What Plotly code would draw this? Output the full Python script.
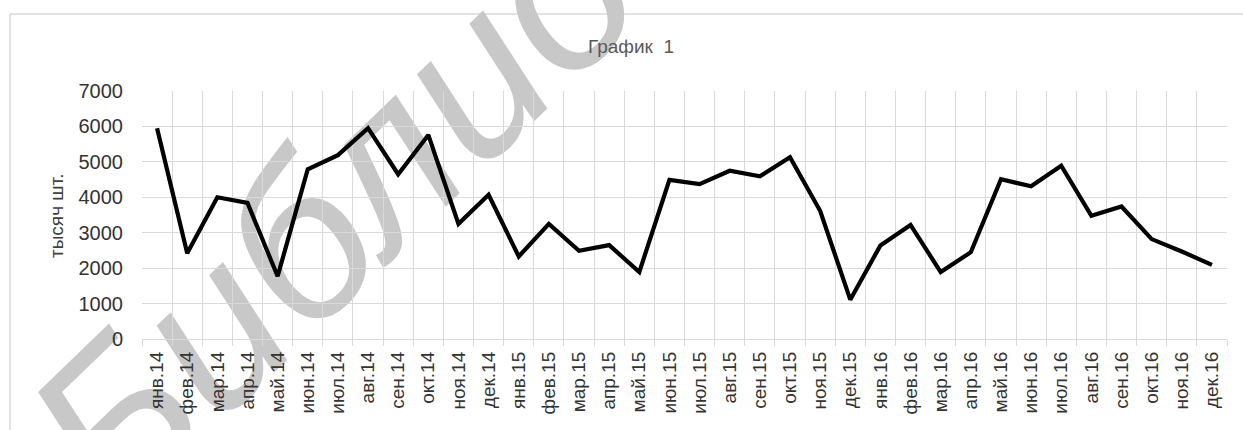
import plotly.graph_objects as go

months = ["янв", "фев", "мар", "апр", "май", "июн", "июл", "авг", "сен", "окт", "ноя", "дек"]
years = ["14", "15", "16"]
categories = [f"{m}.{y}" for y in years for m in months]

values = [5950, 2420, 4000, 3840, 1770, 4790, 5190, 5950, 4650, 5760, 3250, 4070,
          2330, 3250, 2490, 2650, 1890, 4490, 4370, 4750, 4590, 5130, 3620, 1110,
          2640, 3220, 1890, 2450, 4510, 4310, 4890, 3480, 3740, 2820, 2470, 2090]

y_ticks = [0, 1000, 2000, 3000, 4000, 5000, 6000, 7000]
title_text = "График  1"
y_title = "тысяч шт."
watermark = "Библио"

FONT = "Liberation Sans, Arial, sans-serif"
GRID = "#d9d9d9"

fig = go.Figure()
fig.add_trace(go.Scatter(
    x=categories, y=values, mode="lines",
    line=dict(color="black", width=4.2),
    hoverinfo="skip", showlegend=False,
))

W, H = 1243, 430
L, R, T, B = 142, 16, 91, 91
pw, ph = W - L - R, H - T - B

def px(x):
    return (x - L) / pw

def py(y):
    return (H - B - y) / ph

wx, wy = 318, 196
shapes = [
    dict(type="rect", xref="paper", yref="paper",
         x0=px(10), x1=px(1260), y0=py(445), y1=py(14),
         line=dict(color="#d9d9d9", width=1.5), fillcolor="rgba(0,0,0,0)", layer="below"),
    dict(type="rect", xref="paper", yref="paper",
         x0=px(wx) - 0.001, x1=px(wx) + 0.001, y0=py(wy) - 0.001, y1=py(wy) + 0.001,
         line=dict(width=0), fillcolor="rgba(0,0,0,0)", layer="between",
         label=dict(text=f"<i>{watermark}</i>", textangle=-44, textposition="middle center",
                    font=dict(size=218, color="#c8c8c8", family=FONT))),
]

fig.update_layout(
    width=W, height=H,
    margin=dict(l=L, r=R, t=T, b=B, autoexpand=False),
    paper_bgcolor="white", plot_bgcolor="white",
    font=dict(family=FONT, color="#333333"),
    shapes=shapes,
    showlegend=False,
    annotations=[
        dict(text=title_text, xref="paper", yref="paper", x=px(631), y=py(47),
             xanchor="center", yanchor="middle", showarrow=False,
             font=dict(size=19, color="#595959", family=FONT)),
        dict(text=y_title, xref="paper", yref="paper", x=px(56), y=py(216),
             xanchor="center", yanchor="middle", showarrow=False, textangle=-90,
             font=dict(size=19, color="#404040", family=FONT)),
    ],
    xaxis=dict(
        type="category", categoryorder="array", categoryarray=categories,
        range=[-0.5, len(categories) - 0.5],
        tickson="boundaries", ticks="outside", ticklen=6, tickcolor=GRID, tickwidth=1.3,
        showgrid=True, gridcolor=GRID, gridwidth=1.3,
        showline=True, linecolor=GRID, linewidth=1.3, mirror=False,
        tickangle=-90, tickfont=dict(size=19, color="#333333"),
        ticklabelstandoff=4,
    ),
    yaxis=dict(
        range=[0, 7000], tickvals=y_ticks, ticktext=[str(v) for v in y_ticks],
        showgrid=True, gridcolor=GRID, gridwidth=1.3,
        zeroline=True, zerolinecolor=GRID, zerolinewidth=1.3,
        ticks="", tickfont=dict(size=20, color="#333333"),
        ticklabelstandoff=18,
    ),
)

fig.write_html("out.html", config={"displayModeBar": False},
               post_script="document.body.style.margin='0px';document.body.style.overflow='hidden';")
